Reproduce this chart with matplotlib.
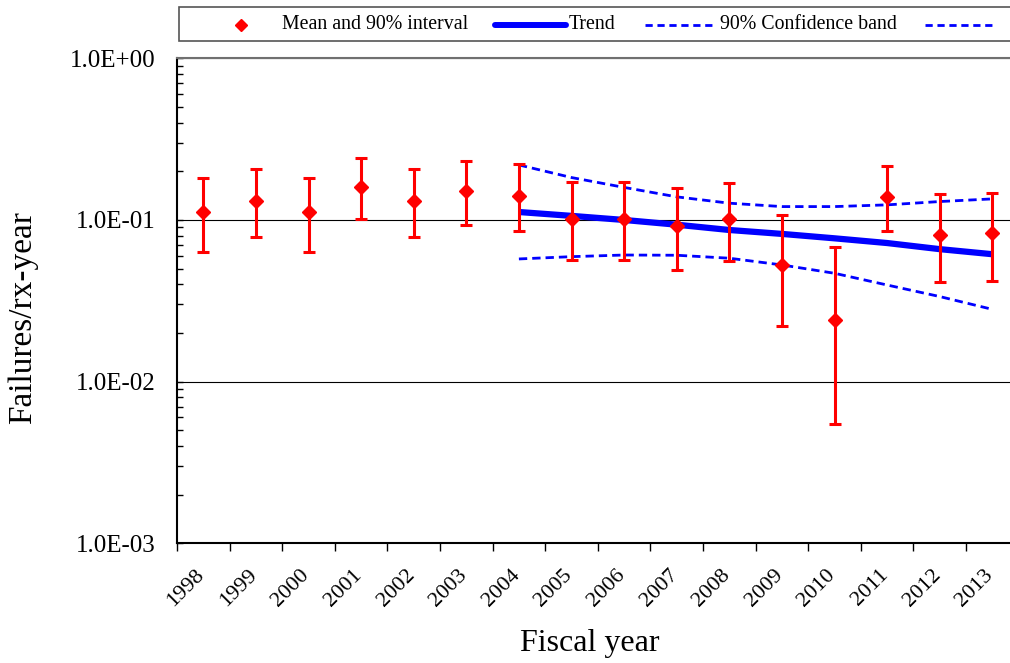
import matplotlib
matplotlib.use("Agg")
import matplotlib.pyplot as plt
from matplotlib.ticker import FixedLocator, NullFormatter, LogLocator
from matplotlib.patches import Rectangle
from matplotlib.lines import Line2D
from matplotlib.transforms import ScaledTranslation
import numpy as np

# ---------------- data ----------------
years = ['1998', '1999', '2000', '2001', '2002', '2003', '2004', '2005',
         '2006', '2007', '2008', '2009', '2010', '2011', '2012', '2013']
mean = [0.112, 0.131, 0.112, 0.159, 0.131, 0.150, 0.140, 0.101,
        0.101, 0.0918, 0.101, 0.0527, 0.0240, 0.139, 0.0811, 0.0828]
upper = [0.183, 0.207, 0.183, 0.243, 0.207, 0.231, 0.221, 0.171,
         0.171, 0.157, 0.169, 0.107, 0.0678, 0.217, 0.145, 0.147]
lower = [0.0637, 0.0785, 0.0637, 0.101, 0.0785, 0.0935, 0.0859, 0.0563,
         0.0563, 0.0489, 0.0558, 0.0220, 0.00547, 0.0851, 0.0415, 0.0421]

trend_years = ['2004', '2005', '2006', '2007', '2008', '2009', '2010', '2011', '2012', '2013']
trend = [0.112, 0.106, 0.100, 0.0935, 0.0867, 0.082, 0.077, 0.072, 0.066, 0.0614]
band_upper = [0.219, 0.183, 0.159, 0.139, 0.127, 0.121, 0.121, 0.124, 0.130, 0.135]
band_lower = [0.0574, 0.0593, 0.0607, 0.0605, 0.058, 0.0527, 0.0468, 0.0396, 0.0336, 0.0280]

ytick_values = [1e-3, 1e-2, 1e-1, 1e0]
ytick_labels = ['1.0E-03', '1.0E-02', '1.0E-01', '1.0E+00']

legend_labels = ['Mean and 90% interval', 'Trend', '90% Confidence band']

# ---------------- figure ----------------
W, H = 1010, 663
plt.rcParams['font.family'] = ['Liberation Serif', 'DejaVu Serif']
fig = plt.figure(figsize=(W / 100, H / 100), dpi=100)

ax_left, ax_right = 177, 1018.6
ax_top, ax_bottom = 58.3, 543.3
ax = fig.add_axes([ax_left / W, 1 - ax_bottom / H,
                   (ax_right - ax_left) / W, (ax_bottom - ax_top) / H])

RED = '#ff0000'
BLUE = '#0000ff'

x = np.arange(len(years))
idx = {y: i for i, y in enumerate(years)}
xt = np.array([idx[y] for y in trend_years])

mean_a = np.array(mean)
yerr = [mean_a - np.array(lower), np.array(upper) - mean_a]

# confidence band and trend
ax.plot(xt, band_upper, color=BLUE, lw=2.0, dashes=(3.0, 1.8), zorder=3)
ax.plot(xt, band_lower, color=BLUE, lw=2.0, dashes=(3.0, 1.8), zorder=3)
ax.plot(xt, trend, color=BLUE, lw=4.5, solid_capstyle='butt', zorder=4)

# mean and interval
ax.errorbar(x, mean, yerr=yerr, fmt='D', color=RED, ms=7.5, mec=RED, mfc=RED,
            elinewidth=2.2, capsize=4.3, capthick=2.2, zorder=5)

ax.set_yscale('log')
ax.set_ylim(1e-3, 1e0)
ax.set_xlim(-0.5, len(years) - 0.5)

# y ticks
ax.yaxis.set_major_locator(FixedLocator(ytick_values))
ax.set_yticklabels(ytick_labels)
ax.yaxis.set_minor_locator(LogLocator(base=10, subs=np.arange(2, 10)))
ax.yaxis.set_minor_formatter(NullFormatter())
ax.tick_params(axis='y', which='major', direction='in', length=4.5, width=1.0,
               pad=15.5, labelsize=18, colors='black')
ax.tick_params(axis='y', which='minor', direction='in', length=4.3, width=1.0)
ax.grid(True, axis='y', which='major', color='black', lw=0.8, zorder=1)

# x ticks: marks at boundaries, labels at centres
ax.xaxis.set_major_locator(FixedLocator(np.arange(len(years) + 1) - 0.5))
ax.xaxis.set_major_formatter(NullFormatter())
ax.xaxis.set_minor_locator(FixedLocator(x))
ax.set_xticklabels(years, minor=True)
ax.tick_params(axis='x', which='major', direction='out', length=5.5, width=1.0)
ax.tick_params(axis='x', which='minor', length=0, pad=16.0, labelsize=16)
off = ScaledTranslation(5 / 100, 0, fig.dpi_scale_trans)
for lab in ax.get_xticklabels(minor=True):
    lab.set_rotation(45)
    lab.set_ha('right')
    lab.set_va('top')
    lab.set_transform(lab.get_transform() + off)

for s in ['left', 'bottom']:
    ax.spines[s].set_color('black')
    ax.spines[s].set_linewidth(1.5)
ax.spines['top'].set_color('#707070')
ax.spines['top'].set_linewidth(1.5)
ax.spines['right'].set_visible(False)

# axis titles
fig.text(590 / W, 1 - 643 / H, 'Fiscal year', ha='center', va='center', fontsize=23)
fig.text(23 / W, 1 - 317.5 / H, 'Failures/rx-year', ha='center', va='center',
         rotation=90, fontsize=24)

# ---------------- legend ----------------
def fx(px):
    return px / W

def fy(py):
    return 1 - py / H

fig.add_artist(Rectangle((fx(179), fy(41)), fx(1030) - fx(179), fy(7.3) - fy(41),
                         transform=fig.transFigure, facecolor='white',
                         edgecolor='#555555', lw=1.2))
ly = 24.5
fig.add_artist(Line2D([fx(240.7)], [fy(ly)], marker='D', ms=6.3, color=RED,
                      ls='none', transform=fig.transFigure))
fig.text(fx(282), fy(ly), legend_labels[0], va='center', ha='left', fontsize=14.3)
fig.add_artist(Line2D([fx(495), fx(566)], [fy(ly), fy(ly)], color=BLUE, lw=4.3,
                      solid_capstyle='round', transform=fig.transFigure))
fig.text(fx(568.5), fy(ly), legend_labels[1], va='center', ha='left', fontsize=14.3)
fig.add_artist(Line2D([fx(645), fx(713)], [fy(ly), fy(ly)], color=BLUE, lw=2.0,
                      dashes=(2.6, 1.7), transform=fig.transFigure))
fig.text(fx(720), fy(ly), legend_labels[2], va='center', ha='left', fontsize=14.3)
fig.add_artist(Line2D([fx(925), fx(994)], [fy(ly), fy(ly)], color=BLUE, lw=2.0,
                      dashes=(2.6, 1.7), transform=fig.transFigure))

fig.savefig('out.png', dpi=100)
